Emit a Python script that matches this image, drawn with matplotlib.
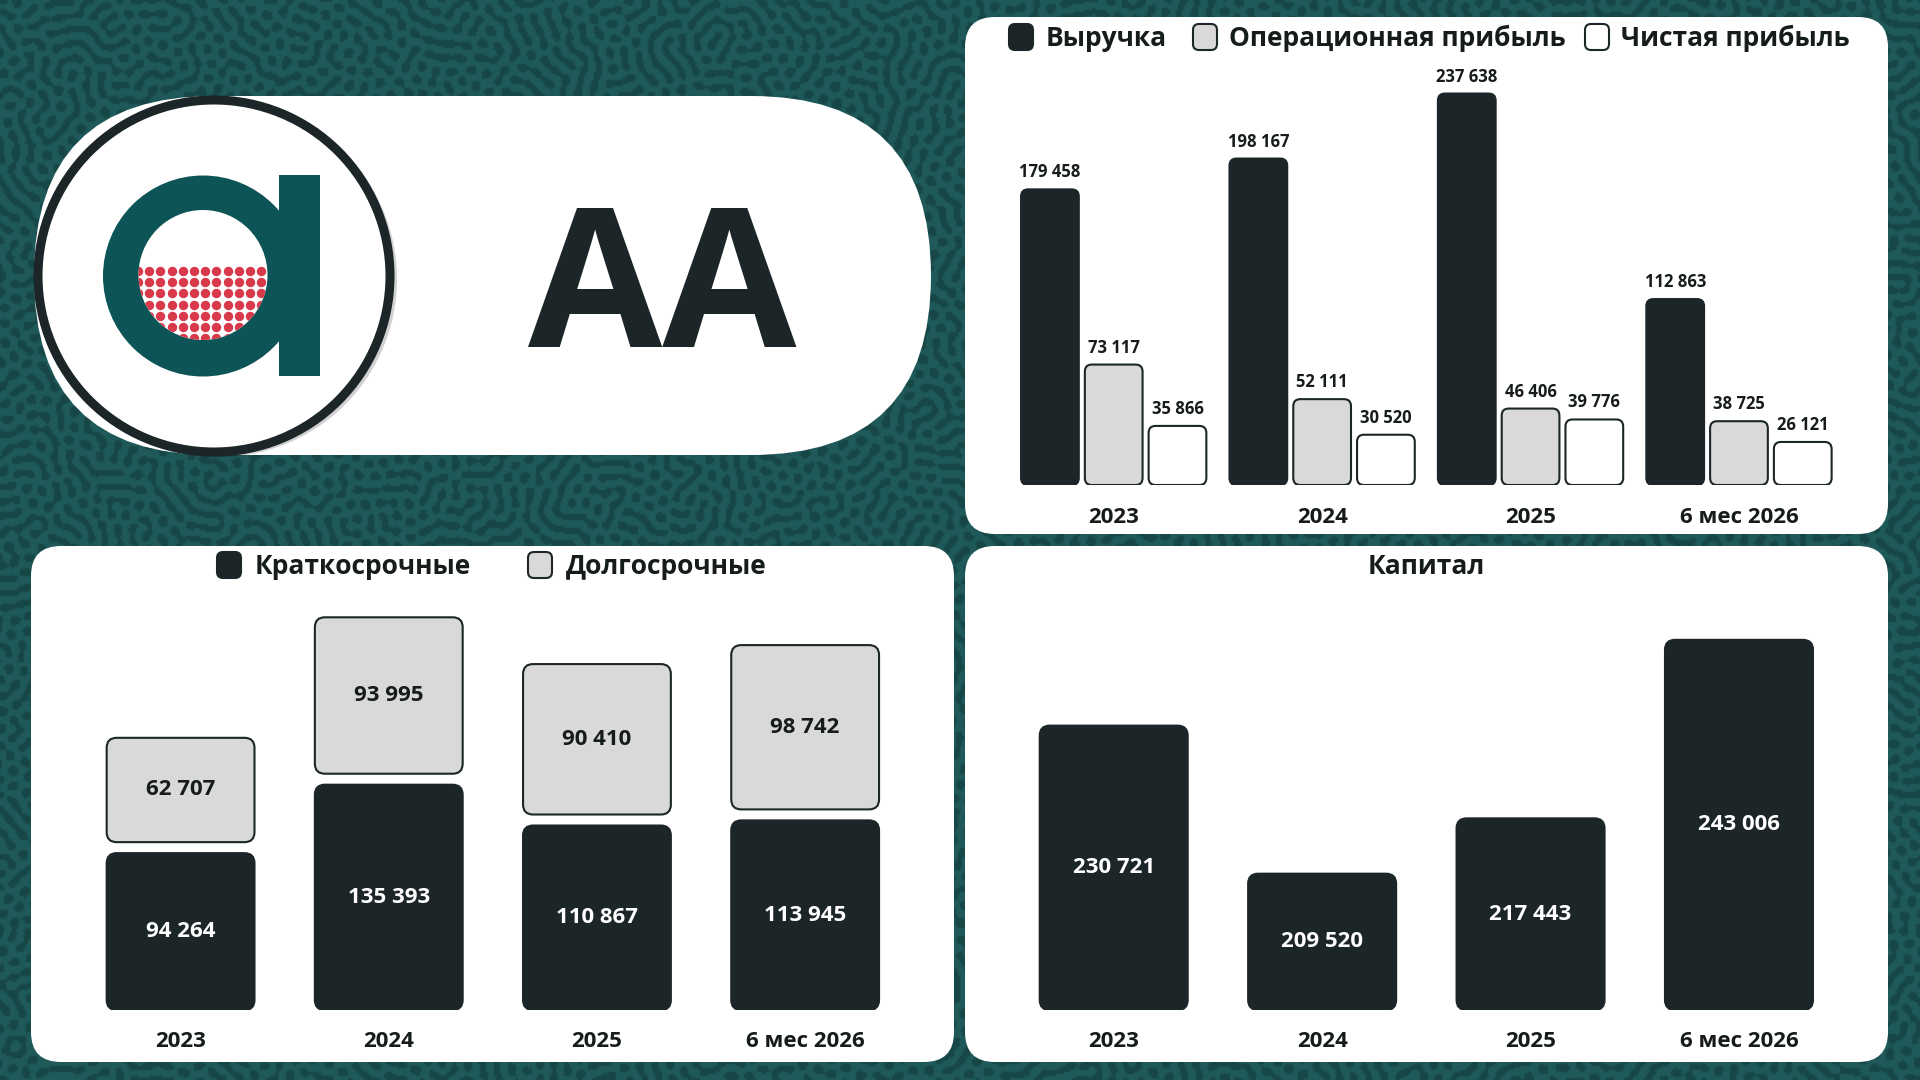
import numpy as np
import matplotlib
matplotlib.use("Agg")
import matplotlib.pyplot as plt
from matplotlib.patches import FancyBboxPatch, Ellipse, Rectangle, Circle
from matplotlib.colors import ListedColormap

plt.rcParams["font.family"] = ["Open Sans", "DejaVu Sans"]
plt.rcParams["font.weight"] = "bold"

# данные
years = ["2023", "2024", "2025", "6 мес 2026"]
revenue = [179458, 198167, 237638, 112863]
op_profit = [73117, 52111, 46406, 38725]
net_profit = [35866, 30520, 39776, 26121]
short_term = [94264, 135393, 110867, 113945]
long_term = [62707, 93995, 90410, 98742]
capital = [230721, 209520, 217443, 243006]

DARK = "#1c2527"
GRAY = "#d9d9d9"
WHITE = "#ffffff"
TEXT = "#161b1c"
W, H = 1920, 1080


def fmt(v):
    return f"{v:,}".replace(",", " ")


fig = plt.figure(figsize=(19.2, 10.8), dpi=100)

# фон с узором
bg = fig.add_axes([0, 0, 1, 1])
bg.set_xlim(0, W)
bg.set_ylim(H, 0)
bg.axis("off")

ny, nx = 540, 960
yy, xx = np.mgrid[0:ny, 0:nx]
u = np.sin(xx * 12.9898 + yy * 78.233) * 43758.5453
u = u - np.floor(u) - 0.5
kx = np.fft.fftfreq(nx)[None, :]
ky = np.fft.fftfreq(ny)[:, None]
k = np.sqrt(kx ** 2 + ky ** 2)
k0 = 1 / 7.0
filt = np.exp(-((k - k0) / (0.3 * k0)) ** 2)
for _ in range(8):
    u = np.real(np.fft.ifft2(np.fft.fft2(u) * filt))
    u = np.tanh(3 * (u / u.std() + 0.25))
bg.imshow(u > 0, cmap=ListedColormap(["#174646", "#1f5959"]),
          extent=(0, W, H, 0), interpolation="bilinear", aspect="auto", zorder=0)


def panel(x0, y0, x1, y1, r=30):
    bg.add_patch(FancyBboxPatch((x0, y0), x1 - x0, y1 - y0,
                                boxstyle=f"round,pad=0,rounding_size={r}",
                                facecolor=WHITE, edgecolor="none", zorder=1))


panel(965, 17, 1888, 534)
panel(31, 546, 954, 1062)
panel(965, 546, 1888, 1062)

# логотип
bg.add_patch(FancyBboxPatch((34, 96), 931 - 34, 359,
                            boxstyle="round,pad=0,rounding_size=179.5",
                            facecolor=WHITE, edgecolor="none", zorder=1))
bg.add_patch(Circle((219, 279), 178, facecolor="#000000", alpha=0.18,
                    edgecolor="none", zorder=2))
bg.add_patch(Circle((214, 276), 176, facecolor=WHITE, edgecolor=DARK,
                    linewidth=6.5, zorder=3))
bg.add_patch(Ellipse((203, 276), 200, 201, facecolor="#0d5456", edgecolor="none", zorder=4))
bg.add_patch(Rectangle((279, 175), 41, 201, facecolor="#0d5456", edgecolor="none", zorder=4))
hole = Ellipse((203, 275), 129, 130, facecolor=WHITE, edgecolor="none", zorder=5)
bg.add_patch(hole)
gx, gy = np.meshgrid(np.arange(138, 270, 11.2), np.arange(271, 345, 11.2))
dots = bg.scatter(gx.ravel(), gy.ravel(), s=46, color="#d8394b", linewidths=0, zorder=6)
dots.set_clip_path(hole)
bg.text(662, 347, "AA", fontsize=140, fontweight="bold", color=DARK,
        ha="center", va="baseline", zorder=6)


def legend_item(x_marker, x_text, y, color, label):
    bg.add_patch(FancyBboxPatch((x_marker - 12, y - 13), 24, 26,
                                boxstyle="round,pad=0,rounding_size=6",
                                facecolor=color, edgecolor=DARK, linewidth=1.5, zorder=3))
    bg.text(x_text, y + 1, label, fontsize=19, fontweight="bold", color=TEXT,
            ha="left", va="center", zorder=3)


legend_item(1021, 1046, 37, DARK, "Выручка")
legend_item(1205, 1229, 37, GRAY, "Операционная прибыль")
legend_item(1597, 1621, 37, WHITE, "Чистая прибыль")
legend_item(229, 255, 565, DARK, "Краткосрочные")
legend_item(540, 566, 565, GRAY, "Долгосрочные")
bg.text(1426, 566, "Капитал", fontsize=19, fontweight="bold", color=TEXT,
        ha="center", va="center", zorder=3)


def make_axes(left, top, right, bottom):
    ax = fig.add_axes([left / W, 1 - bottom / H, (right - left) / W, (bottom - top) / H])
    ax.patch.set_alpha(0)
    for s in ax.spines.values():
        s.set_visible(False)
    ax.set_yticks([])
    ax.set_xticks(range(len(years)))
    ax.set_xticklabels(years, fontsize=16, fontweight="bold", color=TEXT)
    ax.tick_params(axis="x", length=0, pad=15)
    return ax


def round_bars(ax, bars, radius_px, edge=DARK, lw=1.5):
    bb = ax.get_window_extent()
    x0, x1 = ax.get_xlim()
    y0, y1 = ax.get_ylim()
    ux = (x1 - x0) / bb.width
    uy = (y1 - y0) / bb.height
    for rect in bars:
        p = FancyBboxPatch((rect.get_x(), rect.get_y()), rect.get_width(), rect.get_height(),
                           boxstyle=f"round,pad=0,rounding_size={radius_px * ux}",
                           mutation_aspect=uy / ux, facecolor=rect.get_facecolor(),
                           edgecolor=edge, linewidth=lw, zorder=3)
        rect.set_visible(False)
        ax.add_patch(p)


x = np.arange(len(years))

# выручка и прибыль
ax1 = make_axes(965, 60, 1888, 485)
ax1.set_xlim(-0.7135, 3.715)
ax1.set_ylim(0, 258000)
ax1.tick_params(axis="x", pad=16)
step, width = 0.306, 0.277
for off, vals, col in [(-step, revenue, DARK), (0, op_profit, GRAY), (step, net_profit, WHITE)]:
    bars = ax1.bar(x + off, vals, width=width, color=col)
    round_bars(ax1, bars, 7)
    for xi, v in zip(x + off, vals):
        ax1.annotate(fmt(v), (xi, v), xytext=(0, 12), textcoords="offset pixels",
                     ha="center", va="baseline", fontsize=12, fontweight="bold", color=TEXT)

# краткосрочные и долгосрочные
ax2 = make_axes(31, 600, 954, 1010)
ax2.set_xlim(-0.7185, 3.715)
ax2.set_ylim(0, 246400)
gap = 11 * 246400 / 410
bars = ax2.bar(x, short_term, width=0.71, color=DARK)
round_bars(ax2, bars, 10)
bars = ax2.bar(x, long_term, bottom=np.array(short_term) + gap, width=0.71, color=GRAY)
round_bars(ax2, bars, 10)
for xi, s, l in zip(x, short_term, long_term):
    ax2.text(xi, s / 2, fmt(s), ha="center", va="center", fontsize=16,
             fontweight="bold", color=WHITE, zorder=4)
    ax2.text(xi, s + gap + l / 2, fmt(l), ha="center", va="center", fontsize=16,
             fontweight="bold", color=TEXT, zorder=4)

# капитал
base = 190000
ax3 = make_axes(965, 600, 1888, 1010)
ax3.set_xlim(-0.7135, 3.715)
ax3.set_ylim(base, base + 410 * 143.2)
bars = ax3.bar(x, np.array(capital) - base, bottom=base, width=0.71, color=DARK)
round_bars(ax3, bars, 10)
for xi, v in zip(x, capital):
    ax3.text(xi, (v + base) / 2, fmt(v), ha="center", va="center", fontsize=16,
             fontweight="bold", color=WHITE, zorder=4)

fig.savefig("out.png", dpi=100)
